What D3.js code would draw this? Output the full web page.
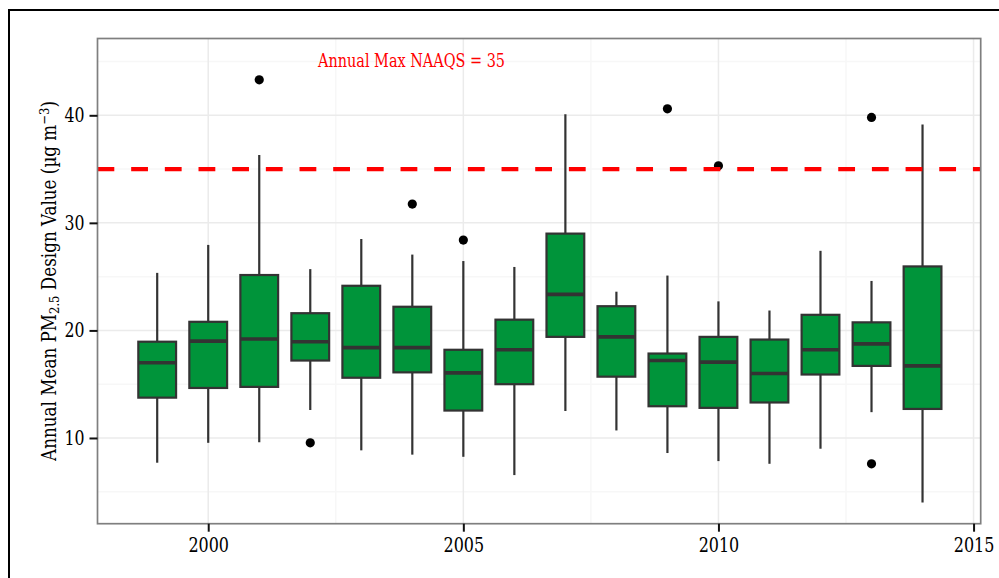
<!DOCTYPE html>
<html>
<head>
<meta charset="utf-8">
<script src="https://cdn.jsdelivr.net/npm/d3@7"></script>
<style>
  body { margin: 0; background: #fff; }
  text { font-family: "DejaVu Serif Condensed", "DejaVu Serif", serif; }
</style>
</head>
<body>
<div id="chart"></div>
<script>
const years     = [1999, 2000, 2001, 2002, 2003, 2004, 2005, 2006, 2007, 2008, 2009, 2010, 2011, 2012, 2013, 2014];
const whiskerLo = [7.7, 9.55, 9.6, 12.6, 8.85, 8.45, 8.25, 6.55, 12.5, 10.7, 8.6, 7.85, 7.6, 9.0, 12.4, 4.0];
const q1        = [13.75, 14.65, 14.75, 17.2, 15.6, 16.1, 12.55, 15.0, 19.4, 15.7, 12.95, 12.8, 13.3, 15.9, 16.7, 12.7];
const medians   = [17.0, 19.0, 19.2, 18.95, 18.4, 18.4, 16.05, 18.2, 23.35, 19.4, 17.2, 17.05, 16.0, 18.2, 18.75, 16.7];
const q3        = [18.95, 20.8, 25.15, 21.6, 24.15, 22.2, 18.2, 21.0, 29.0, 22.25, 17.85, 19.4, 19.15, 21.45, 20.75, 25.95];
const whiskerHi = [25.35, 27.95, 36.3, 25.7, 28.5, 27.05, 26.45, 25.9, 40.1, 23.6, 25.1, 22.7, 21.85, 27.4, 24.6, 39.15];
const outliers  = [[2001, 43.3], [2002, 9.55], [2004, 31.75], [2005, 28.4], [2009, 40.6], [2010, 35.3], [2013, 39.8], [2013, 7.6]];
const yTicks = [10, 20, 30, 40];
const xTicks = [2000, 2005, 2010, 2015];
const naaqs = 35;
const naaqsLabel = "Annual Max NAAQS = 35";

const W = 999, H = 578;
const panel = { left: 97.5, top: 38.5, right: 980.7, bottom: 523.7 };
const boxWidth = 0.74;

const svg = d3.select("#chart").append("svg")
    .attr("width", W).attr("height", H);

// outer frame (cropped at right/bottom)
svg.append("rect")
    .attr("x", 9).attr("y", 10).attr("width", 1100).attr("height", 700)
    .attr("fill", "none").attr("stroke", "#000").attr("stroke-width", 2);

const x = d3.scaleLinear().domain([1997.83, 2015.14]).range([panel.left, panel.right]);
const y = d3.scaleLinear().domain([2.03, 47.14]).range([panel.bottom, panel.top]);

const g = svg.append("g");

// minor grid
const xMinor = d3.range(1997.5, 2016, 2.5).filter(v => !xTicks.includes(v) && x(v) > panel.left && x(v) < panel.right);
const yMinor = [5, 15, 25, 35, 45];
g.selectAll(".minx").data(xMinor).enter().append("line")
    .attr("x1", d => x(d)).attr("x2", d => x(d))
    .attr("y1", panel.top).attr("y2", panel.bottom)
    .attr("stroke", "#f7f7f7").attr("stroke-width", 1.5);
g.selectAll(".miny").data(yMinor).enter().append("line")
    .attr("y1", d => y(d)).attr("y2", d => y(d))
    .attr("x1", panel.left).attr("x2", panel.right)
    .attr("stroke", "#f7f7f7").attr("stroke-width", 1.5);
// major grid
g.selectAll(".majx").data(xTicks).enter().append("line")
    .attr("x1", d => x(d)).attr("x2", d => x(d))
    .attr("y1", panel.top).attr("y2", panel.bottom)
    .attr("stroke", "#ebebeb").attr("stroke-width", 1.5);
g.selectAll(".majy").data(yTicks).enter().append("line")
    .attr("y1", d => y(d)).attr("y2", d => y(d))
    .attr("x1", panel.left).attr("x2", panel.right)
    .attr("stroke", "#ebebeb").attr("stroke-width", 1.5);

// boxes
const rows = years.map((yr, i) => ({ yr, lo: whiskerLo[i], q1: q1[i], med: medians[i], q3: q3[i], hi: whiskerHi[i] }));
const bw = x(boxWidth) - x(0);

g.selectAll(".whisk").data(rows).enter().append("line")
    .attr("x1", d => x(d.yr)).attr("x2", d => x(d.yr))
    .attr("y1", d => y(d.lo)).attr("y2", d => y(d.hi))
    .attr("stroke", "#333").attr("stroke-width", 2.2);
g.selectAll(".box").data(rows).enter().append("rect")
    .attr("x", d => x(d.yr) - bw / 2).attr("width", bw)
    .attr("y", d => y(d.q3)).attr("height", d => y(d.q1) - y(d.q3))
    .attr("fill", "#00943a").attr("stroke", "#333").attr("stroke-width", 2.2);
g.selectAll(".med").data(rows).enter().append("line")
    .attr("x1", d => x(d.yr) - bw / 2).attr("x2", d => x(d.yr) + bw / 2)
    .attr("y1", d => y(d.med)).attr("y2", d => y(d.med))
    .attr("stroke", "#333").attr("stroke-width", 3.6);
g.selectAll(".out").data(outliers).enter().append("circle")
    .attr("cx", d => x(d[0])).attr("cy", d => y(d[1])).attr("r", 4.6)
    .attr("fill", "#000");

// NAAQS line
g.append("line")
    .attr("x1", panel.left).attr("x2", panel.right)
    .attr("y1", y(naaqs)).attr("y2", y(naaqs))
    .attr("stroke", "#ff0000").attr("stroke-width", 4.3)
    .attr("stroke-dasharray", "16.8,16.87");
g.append("text")
    .attr("x", 411.5).attr("y", 66.5)
    .attr("text-anchor", "middle")
    .attr("fill", "#ff0000").attr("font-size", 18.5)
    .attr("textLength", 187).attr("lengthAdjust", "spacingAndGlyphs")
    .text(naaqsLabel);

// panel border
svg.append("rect")
    .attr("x", panel.left).attr("y", panel.top)
    .attr("width", panel.right - panel.left).attr("height", panel.bottom - panel.top)
    .attr("fill", "none").attr("stroke", "#7f7f7f").attr("stroke-width", 1.7);

// axes
const xAxis = d3.axisBottom(x).tickValues(xTicks).tickFormat(d3.format("d")).tickSize(8).tickPadding(6);
const yAxis = d3.axisLeft(y).tickValues(yTicks).tickSize(8).tickPadding(5);
const gx = svg.append("g").attr("transform", `translate(0,${panel.bottom})`).call(xAxis);
const gy = svg.append("g").attr("transform", `translate(${panel.left},0)`).call(yAxis);
[gx, gy].forEach(a => {
    a.select(".domain").remove();
    a.selectAll(".tick line").attr("stroke", "#111").attr("stroke-width", 2);
    a.selectAll(".tick text").attr("fill", "#000").attr("font-size", 19.5)
        .style("font-family", '"DejaVu Serif Condensed", "DejaVu Serif", serif');
});
gx.selectAll(".tick text").attr("textLength", 40.6).attr("lengthAdjust", "spacingAndGlyphs");
gy.selectAll(".tick text").attr("textLength", 20).attr("lengthAdjust", "spacingAndGlyphs");

// y label
const yl = svg.append("text")
    .attr("text-anchor", "middle")
    .attr("font-size", 19.5).attr("fill", "#000");
yl.append("tspan").text("Annual Mean PM");
yl.append("tspan").attr("font-size", 13.5).attr("baseline-shift", "-22%").text("2.5");
yl.append("tspan").text(" Design Value (µg m");
yl.append("tspan").attr("font-size", 13.5).attr("baseline-shift", "55%").text("−3");
yl.append("tspan").text(")");
const ylLen = yl.node().getComputedTextLength();
const ylScale = 360 / ylLen;
yl.attr("transform", `translate(56,281) rotate(-90) scale(${ylScale},1)`);
</script>
</body>
</html>
